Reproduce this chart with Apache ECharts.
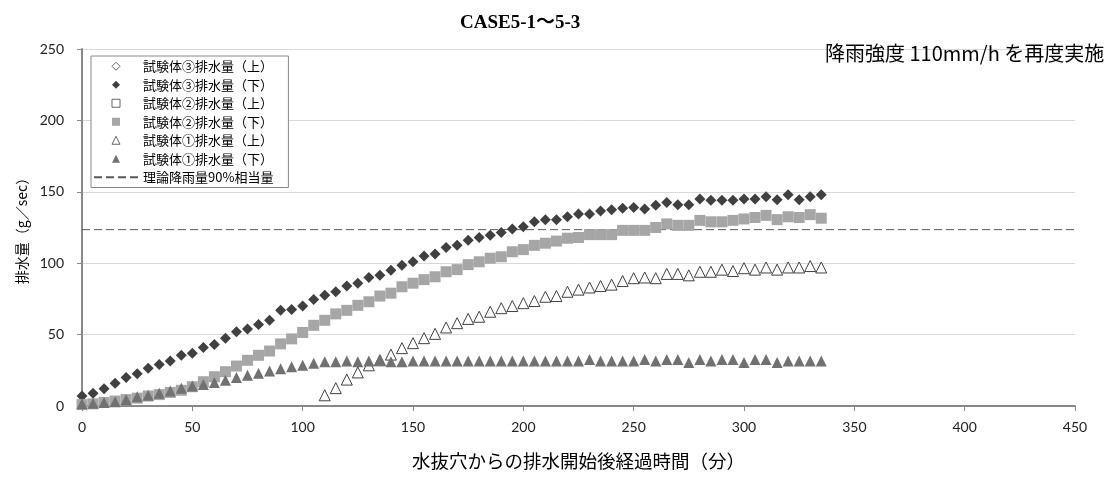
<!DOCTYPE html>
<html>
<head>
<meta charset="utf-8">
<script src="https://cdn.jsdelivr.net/npm/echarts@6/dist/echarts.min.js"></script>
<style>html,body{margin:0;padding:0;background:#fff}#c{width:1112px;height:477px}</style>
</head>
<body>
<div id="c"></div>
<script>
// ---- data ----
const TITLE = 'CASE5-1～5-3';
const NOTE = '降雨強度 110mm/h を再度実施';
const X_NAME = '水抜穴からの排水開始後経過時間（分）';
const Y_NAME = '排水量（g／sec）';
const SERIES_NAMES = ['試験体③排水量（上）','試験体③排水量（下）','試験体②排水量（上）','試験体②排水量（下）','試験体①排水量（上）','試験体①排水量（下）','理論降雨量90%相当量'];
const TIME = [0,5,10,15,20,25,30,35,40,45,50,55,60,65,70,75,80,85,90,95,100,105,110,115,120,125,130,135,140,145,150,155,160,165,170,175,180,185,190,195,200,205,210,215,220,225,230,235,240,245,250,255,260,265,270,275,280,285,290,295,300,305,310,315,320,325,330,335];
const S3_UP = [];
const S3_DOWN = [7,9,12,16,20,22.5,26.5,29,31.5,35.5,37,41,43,47.5,52,54,57,60,67,67.5,70,74.5,77.5,80,84,86,90,91.5,95,98.5,101,105,106.5,111,112.5,116,118,119.5,121.5,124,125.5,129,130.5,130.5,132.5,134.5,134.5,136.5,137.5,138.5,139,138,140.5,142.5,141,141,145,144,144,144,145,145,146.5,144.5,148,144.5,146.5,148];
const S2_UP = [];
const S2_DOWN = [1,1.5,2.5,3.5,4.5,5.5,7,8,9.5,11,13.5,17,20.5,24,28,32,35.5,38.5,43.5,47,51.5,56.5,60,64.5,67,70.5,73,77,79,83.5,86,88.5,90.5,94,95.5,99,101,103.5,104.5,108,109.5,112.5,114,115.5,117.5,118,120,120,120,123,123,123,125,127.5,126.5,126.5,130,129,129,130,131,132,133.5,130.5,132.5,132,134,131.5];
const S1_UP_TIME = [110,115,120,125,130,135,140,145,150,155,160,165,170,175,180,185,190,195,200,205,210,215,220,225,230,235,240,245,250,255,260,265,270,275,280,285,290,295,300,305,310,315,320,325,330,335];
const S1_UP = [7.5,12.5,18.5,23.5,28.5,32,36,40.5,44,47.5,50.5,55,58,61,62.5,66,68.5,70,72,73.5,76.5,77,80,81.5,83,84,85,87.5,89.5,90,89.5,92.5,92.5,91.5,94,94,95.5,94.5,96.5,95.5,97,95.5,97,97,98,97];
const S1_DOWN = [1.5,2,2.5,3,4.5,6.5,7.5,9,10.5,12.5,14,15,16.5,18,20,21.5,23,24.5,26,27.5,28.5,30,31,31,31.5,31,31.5,32.5,31,31,31.5,31.5,31.5,31.5,31.5,31.5,31.5,31.5,31.5,31.5,31.5,31.5,31.5,31.5,31.5,31.5,32.5,31.5,31.5,31.5,31.5,32.5,31.5,32.5,32.5,30.5,32.5,31.5,32.5,32.5,30.5,32.5,32.5,30.5,31.5,31.5,31.5,31.5];
const REF_VALUE = 123.5;
const REF_X = [0, 450];
const X_MIN = 0, X_MAX = 450, X_STEP = 50;
const Y_MIN = 0, Y_MAX = 250, Y_STEP = 50;

function pairs(xs, ys){ return ys.map((v,i)=>[xs[i], v]); }

const chart = echarts.init(document.getElementById('c'), null, {renderer:'canvas'});
const CJK = '"Noto Sans CJK JP", "Noto Sans", sans-serif';
const NUM = 'Lato, "Noto Sans", sans-serif';
const dark = '#404040';

function markers(name, data, symbol, color, open){
  return {
    name, type:'line', data, symbol, symbolSize: 11, showSymbol:true, showAllSymbol:true,
    lineStyle:{opacity:0, width:0},
    itemStyle: open ? {color:'#fff', borderColor:dark, borderWidth:1} : {color, borderWidth:0},
    emphasis:{disabled:true}, animation:false, silent:true
  };
}

chart.setOption({
  animation:false,
  title:[
    {text:TITLE, left:455, top:9, textStyle:{fontFamily:'"Liberation Serif", "Noto Sans CJK JP", serif', fontWeight:'bold', fontSize:19, color:'#000'}},
    {text:NOTE, left:820, top:38, textStyle:{fontFamily:CJK, fontWeight:'normal', fontSize:20, color:'#000'}}
  ],
  grid:{left:82, right:37, top:49, bottom:71, containLabel:false},
  legend:{
    orient:'vertical', left:91, top:56,
    backgroundColor:'#fff', borderColor:'#888', borderWidth:1,
    padding:[1,15,1,2], itemGap:0, itemWidth:44, itemHeight:10,
    textStyle:{fontFamily:CJK, fontSize:13, color:'#000', lineHeight:18.5},
    data:SERIES_NAMES.map((n,i)=> i===6 ? {name:n, itemStyle:{opacity:0}} : {name:n, itemStyle:{borderWidth:0.8}})
  },
  xAxis:{
    type:'value', min:X_MIN, max:X_MAX, interval:X_STEP,
    name:X_NAME, nameLocation:'middle', nameGap:46,
    nameTextStyle:{fontFamily:CJK, fontSize:18.5, color:'#000'},
    axisLine:{show:true, lineStyle:{color:'#898989', width:2}},
    axisTick:{show:true, length:5, lineStyle:{color:'#898989', width:1}},
    axisLabel:{fontFamily:NUM, fontSize:14, color:'#222', margin:14},
    splitLine:{show:false}
  },
  yAxis:{
    type:'value', min:Y_MIN, max:Y_MAX, interval:Y_STEP,
    name:Y_NAME, nameLocation:'middle', nameGap:52,
    nameTextStyle:{fontFamily:CJK, fontSize:14, color:'#000'},
    axisLine:{show:true, lineStyle:{color:'#898989', width:2}},
    axisTick:{show:true, length:5, lineStyle:{color:'#898989', width:1}},
    axisLabel:{fontFamily:NUM, fontSize:14, color:'#222', margin:18},
    splitLine:{show:true, lineStyle:{color:'#d9d9d9', width:1}}
  },
  series:[
    markers(SERIES_NAMES[0], pairs(TIME, S3_UP), 'diamond', '#fff', true),
    markers(SERIES_NAMES[1], pairs(TIME, S3_DOWN), 'diamond', dark, false),
    markers(SERIES_NAMES[2], pairs(TIME, S2_UP), 'rect', '#fff', true),
    markers(SERIES_NAMES[3], pairs(TIME, S2_DOWN), 'rect', '#a6a6a6', false),
    markers(SERIES_NAMES[4], pairs(S1_UP_TIME, S1_UP), 'triangle', '#fff', true),
    markers(SERIES_NAMES[5], pairs(TIME, S1_DOWN), 'triangle', '#717171', false),
    {
      name:SERIES_NAMES[6], type:'line', data:REF_X.map(x=>[x, REF_VALUE]),
      symbol:'none', showSymbol:false, z:1,
      lineStyle:{color:'#595959', width:1, type:[8,4]},
      itemStyle:{color:'#595959'},
      emphasis:{disabled:true}, animation:false, silent:true
    }
  ]
});
</script>
</body>
</html>
